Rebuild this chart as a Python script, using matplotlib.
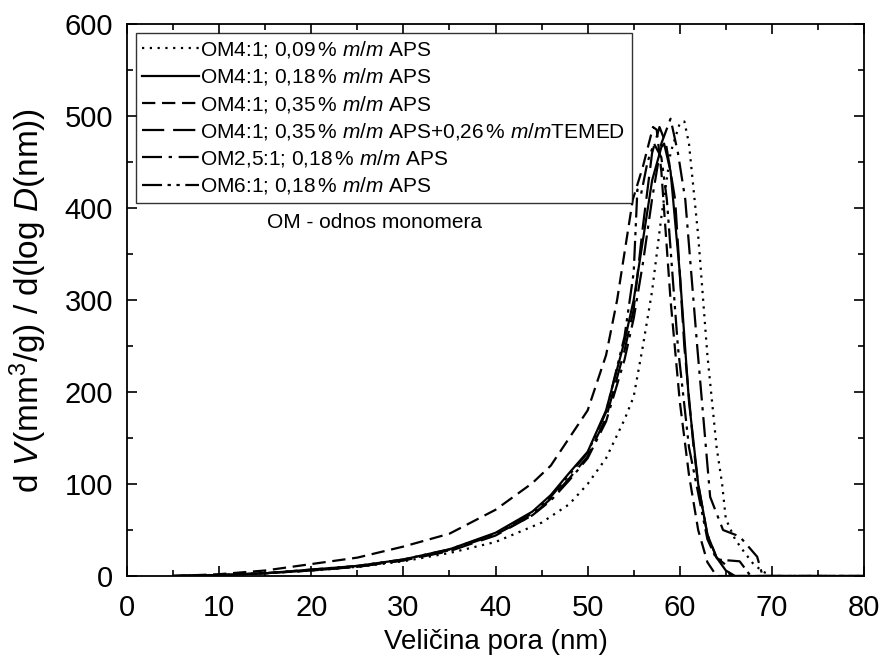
import matplotlib.pyplot as plt
from matplotlib.ticker import MultipleLocator

plt.rcParams['font.family'] = ['Liberation Sans', 'DejaVu Sans']
plt.rcParams['mathtext.fontset'] = 'custom'
plt.rcParams['mathtext.rm'] = 'Liberation Sans'
plt.rcParams['mathtext.it'] = 'Liberation Sans:italic'

# pore size distributions
x_009 = [5, 10, 15, 20, 25, 30, 35, 40, 45, 48, 50, 52, 54, 55, 56, 57, 58, 59, 60, 60.5,
         61, 62, 63, 64, 64.6, 65, 66, 67, 68, 69, 70, 80]
y_009 = [0, 1, 3, 6, 10, 16, 25, 37, 58, 78, 100, 128, 170, 195, 250, 310, 390, 460, 492, 494,
         470, 370, 240, 140, 100, 62, 40, 26, 13, 5, 0, 0]

x_018 = [5, 10, 15, 20, 25, 30, 35, 40, 44, 46, 48, 50, 52, 54, 55, 56, 57, 58, 58.3, 59,
         60, 61, 62, 63, 64, 65, 66, 80]
y_018 = [0, 1, 3, 7, 11, 18, 29, 47, 70, 88, 112, 135, 180, 255, 300, 365, 430, 466, 470, 440,
         330, 190, 100, 45, 20, 6, 0, 0]

x_035 = [5, 10, 15, 20, 25, 30, 35, 40, 44, 46, 48, 50, 52, 53.2, 54.9, 56, 57.1, 57.5, 58,
         59, 60, 61, 62, 63, 64, 80]
y_035 = [0, 2, 6, 13, 20, 32, 46, 72, 101, 120, 150, 180, 240, 300, 409, 445, 488, 485, 440,
         300, 190, 110, 50, 15, 0, 0]

x_temed = [5, 10, 15, 20, 25, 30, 35, 40, 44, 46, 48, 50, 52, 54, 55, 56, 57, 57.8, 58.5, 59.5,
           60.5, 61.5, 62, 63, 64, 65, 65.5, 80]
y_temed = [0, 1, 3, 6, 10, 17, 27, 44, 66, 84, 106, 130, 172, 245, 290, 380, 460, 488, 470, 409,
           249, 140, 100, 45, 20, 12, 0, 0]

x_25 = [5, 10, 15, 20, 25, 30, 35, 40, 44, 46, 48, 50, 52, 54, 55, 56, 57, 58, 59, 59.8,
        60.6, 61.9, 63.3, 64.7, 66.5, 68.4, 69, 80]
y_25 = [0, 1, 3, 6, 10, 17, 28, 45, 66, 82, 104, 128, 168, 235, 280, 340, 410, 470, 497, 460,
        409, 249, 86, 50, 43, 21, 0, 0]

x_6 = [5, 10, 15, 20, 25, 30, 35, 40, 44, 46, 48, 50, 52, 54, 55, 55.4, 55.8, 56.5, 57.2, 58,
       58.6, 59.8, 61, 61.8, 63, 64, 66.5, 67.7, 80]
y_6 = [0, 1, 3, 7, 11, 18, 29, 46, 68, 86, 110, 134, 178, 260, 330, 420, 415, 450, 470, 455,
       409, 249, 140, 100, 40, 18, 16, 0, 0]

labels = ['OM4:1; 0,09$\\,$% $m/m$ APS',
          'OM4:1; 0,18$\\,$% $m/m$ APS',
          'OM4:1; 0,35$\\,$% $m/m$ APS',
          'OM4:1; 0,35$\\,$% $m/m$ APS+0,26$\\,$% $m/m$TEMED',
          'OM2,5:1; 0,18$\\,$% $m/m$ APS',
          'OM6:1; 0,18$\\,$% $m/m$ APS']

fig = plt.figure(figsize=(8.81, 6.64), dpi=100)
ax = fig.add_axes([0.1442, 0.1325, 0.8365, 0.8314])

lw = 1.6
ax.plot(x_009, y_009, color='black', lw=lw, linestyle=(0, (1, 2.5)), label=labels[0])
ax.plot(x_018, y_018, color='black', lw=lw, linestyle='-', label=labels[1])
ax.plot(x_035, y_035, color='black', lw=lw, linestyle=(0, (6, 3)), label=labels[2])
ax.plot(x_temed, y_temed, color='black', lw=lw, linestyle=(0, (10, 4)), label=labels[3])
ax.plot(x_25, y_25, color='black', lw=lw, linestyle=(0, (9, 3, 1.5, 3)), label=labels[4])
ax.plot(x_6, y_6, color='black', lw=lw, linestyle=(0, (9, 2.5, 1.5, 2.5, 1.5, 2.5)), label=labels[5])

ax.set_xlim(0, 80)
ax.set_ylim(0, 600)
ax.xaxis.set_major_locator(MultipleLocator(10))
ax.xaxis.set_minor_locator(MultipleLocator(5))
ax.yaxis.set_major_locator(MultipleLocator(100))
ax.yaxis.set_minor_locator(MultipleLocator(50))
ax.tick_params(which='both', direction='in', top=True, right=True, width=1.2, labelsize=21)
ax.tick_params(which='major', length=7)
ax.tick_params(which='minor', length=4)
ax.tick_params(axis='x', pad=13)
ax.tick_params(axis='y', pad=10)
for s in ax.spines.values():
    s.set_linewidth(1.3)

ax.set_xlabel('Veličina pora (nm)', fontsize=20, labelpad=5)
ax.set_ylabel('d $V$(mm$^3$/g) / d(log $D$(nm))', fontsize=24, labelpad=11)

leg = ax.legend(loc='upper left', bbox_to_anchor=(0.012, 0.984), borderaxespad=0,
                fontsize=15, handlelength=2.75, handletextpad=0.05, labelspacing=0.3,
                frameon=True, fancybox=False, edgecolor='black', borderpad=0.3)
leg.get_frame().set_linewidth(1.0)

ax.text(0.336, 0.641, 'OM - odnos monomera', transform=ax.transAxes, fontsize=15,
        ha='center', va='center')

fig.savefig('out.png', dpi=100)
